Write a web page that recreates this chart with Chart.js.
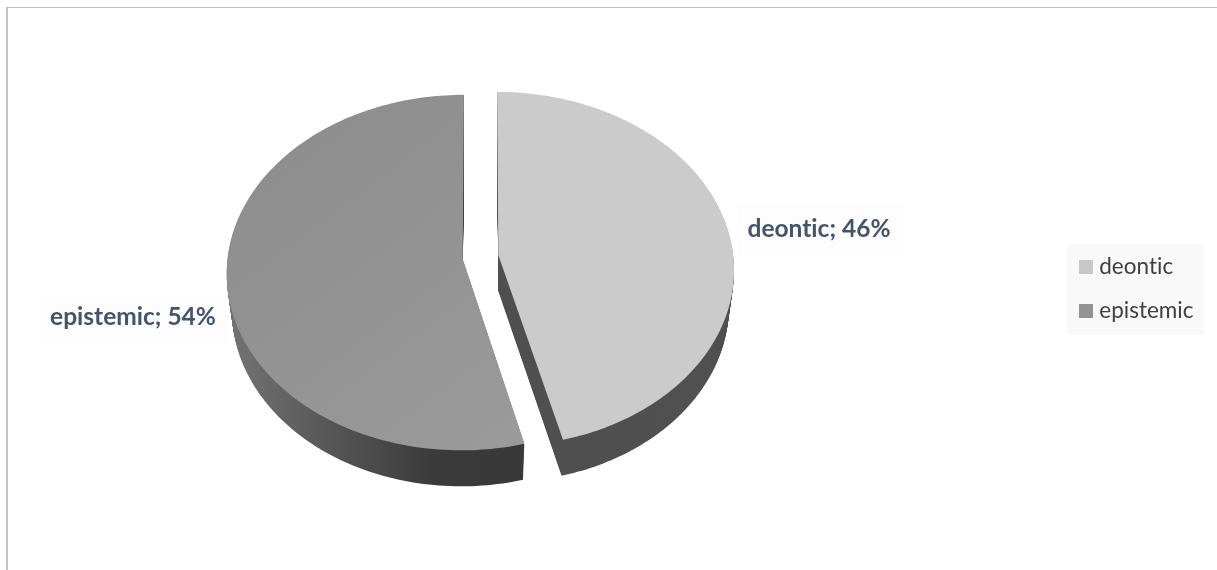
<!DOCTYPE html>
<html>
<head>
<meta charset="utf-8">
<title>deontic / epistemic</title>
<style>
  html, body { margin: 0; padding: 0; background: #fff; }
  #frame { position: absolute; left: 6px; top: 7px; width: 1211px; height: 563px; box-sizing: border-box;
           border-left: 2px solid #c4c4c4; border-top: 1px solid #bfbfbf; pointer-events: none; }
  #pie { position: absolute; left: 0; top: 0; }
</style>
<script src="https://cdn.jsdelivr.net/npm/chart.js@4/dist/chart.umd.min.js"></script>
</head>
<body>
<canvas id="pie" width="1217" height="570"></canvas>
<div id="frame"></div>
<script>
var categories = ['deontic', 'epistemic'];
var shares = [46, 54];
var sliceColors = ['#cbcbcb', '#959595'];
var legendColors = ['#c8c8c8', '#939393'];

var labelFont = 'bold 24.5px Lato, sans-serif';
var labelColor = '#44546a';

// label centre and its faint backing box, one per slice
var labelSpots = [
  { x: 819, y: 229, box: [738, 205, 167, 50] },
  { x: 133, y: 317, box: [38, 295, 190, 50] }
];

// the flat pie is tilted back: vertical squash and a little perspective
var tilt = 0.7506;
var persp = -0.078;
var depth = 36;
var wallShrink = 0.022;

// map a point on the flat disc (unit radius) on to the canvas
function project(el, u, v) {
  var R = el.outerRadius;
  var w = 1 + persp * v;
  return { x: el.x + R * u / w, y: el.y + R * tilt * v / w };
}

function sliceOutline(el) {
  var R = el.outerRadius;
  var mid = (el.startAngle + el.endAngle) / 2;
  var ox = Math.cos(mid) * el.options.offset / R;
  var oy = Math.sin(mid) * el.options.offset / R;
  var pts = [project(el, ox, oy)];
  var steps = 160;
  for (var i = 0; i <= steps; i++) {
    var a = el.startAngle + (el.endAngle - el.startAngle) * i / steps;
    pts.push(project(el, ox + Math.cos(a), oy + Math.sin(a)));
  }
  return pts;
}

// dy pushes the outline down the wall, scale pulls it in towards the slice apex
function fillOutline(ctx, pts, dy, scale, style) {
  var cx = pts[0].x;
  ctx.fillStyle = style;
  ctx.beginPath();
  pts.forEach(function(p, i) {
    var x = cx + (p.x - cx) * scale;
    if (i == 0) ctx.moveTo(x, p.y + dy);
    else ctx.lineTo(x, p.y + dy);
  });
  ctx.closePath();
  ctx.fill();
}

function wallStyle(ctx, index) {
  if (index == 0) return '#505050';
  var g = ctx.createLinearGradient(228, 0, 523, 0);
  g.addColorStop(0, '#747474');
  g.addColorStop(0.35, '#565656');
  g.addColorStop(0.7, '#3a3a3a');
  g.addColorStop(1, '#393939');
  return g;
}

function topStyle(ctx, index) {
  if (index == 0) return sliceColors[0];
  var g = ctx.createLinearGradient(250, 110, 500, 440);
  g.addColorStop(0, '#8c8c8c');
  g.addColorStop(1, '#9a9a9a');
  return g;
}

var pie3d = {
  id: 'pie3d',
  afterLayout: function(chart) {
    // legend sits off to the right of the pie, lower than its middle
    var lg = chart.legend;
    var w = lg.width;
    lg.left = 1062.5;
    lg.right = lg.left + w;
    lg.top = 234.25;
    lg.bottom = lg.top + lg.height;
  },
  beforeDraw: function(chart) {
    var ctx = chart.ctx;
    // no ti ligature in the labels
    ctx.letterSpacing = '0.01px';
    ctx.save();
    ctx.fillStyle = '#ffffff';
    ctx.fillRect(0, 0, chart.width, chart.height);
    ctx.fillStyle = '#fdfdfd';
    labelSpots.forEach(function(s) {
      ctx.fillRect(s.box[0], s.box[1], s.box[2], s.box[3]);
    });
    ctx.fillStyle = '#f9f9f9';
    ctx.fillRect(1067, 244, 137, 91);
    ctx.restore();
  },
  beforeDatasetDraw: function(chart, args) {
    var ctx = chart.ctx;
    ctx.save();
    args.meta.data.forEach(function(el, i) {
      var pts = sliceOutline(el);
      var wall = wallStyle(ctx, i);
      for (var d = depth; d > 0; d--) {
        fillOutline(ctx, pts, d, 1 - wallShrink * d / depth, wall);
      }
      fillOutline(ctx, pts, 0, 1, topStyle(ctx, i));
    });
    ctx.restore();
    return false;
  },
  afterDatasetsDraw: function(chart) {
    var ctx = chart.ctx;
    ctx.save();
    ctx.font = labelFont;
    ctx.fillStyle = labelColor;
    ctx.textAlign = 'center';
    ctx.textBaseline = 'middle';
    categories.forEach(function(c, i) {
      ctx.fillText(c + '; ' + shares[i] + '%', labelSpots[i].x, labelSpots[i].y);
    });
    ctx.restore();
  }
};

var ctx = document.getElementById('pie').getContext('2d');
var pieChart = new Chart(ctx, {
  type: 'pie',
  data: {
    labels: categories,
    datasets: [{
      data: shares,
      backgroundColor: sliceColors,
      borderWidth: 0,
      offset: 18,
      radius: 235
    }]
  },
  options: {
    responsive: false,
    animation: false,
    // centres the pie at x 480, y 257 once the legend has taken its width
    layout: { padding: { right: 115, bottom: 56 } },
    plugins: {
      tooltip: { enabled: false },
      legend: {
        position: 'right',
        align: 'start',
        labels: {
          // a thick stroke round a thin box keeps the swatch at 14px with text close to it
          boxWidth: 4,
          boxHeight: 4,
          padding: 21.5,
          color: '#404040',
          font: { family: 'Lato, sans-serif', size: 22.5 },
          generateLabels: function(chart) {
            var items = Chart.overrides.pie.plugins.legend.labels.generateLabels(chart);
            return items.map(function(it, i) {
              it.fillStyle = legendColors[i];
              it.strokeStyle = legendColors[i];
              it.lineWidth = 10;
              return it;
            });
          }
        }
      }
    }
  },
  plugins: [pie3d]
});
</script>
</body>
</html>
